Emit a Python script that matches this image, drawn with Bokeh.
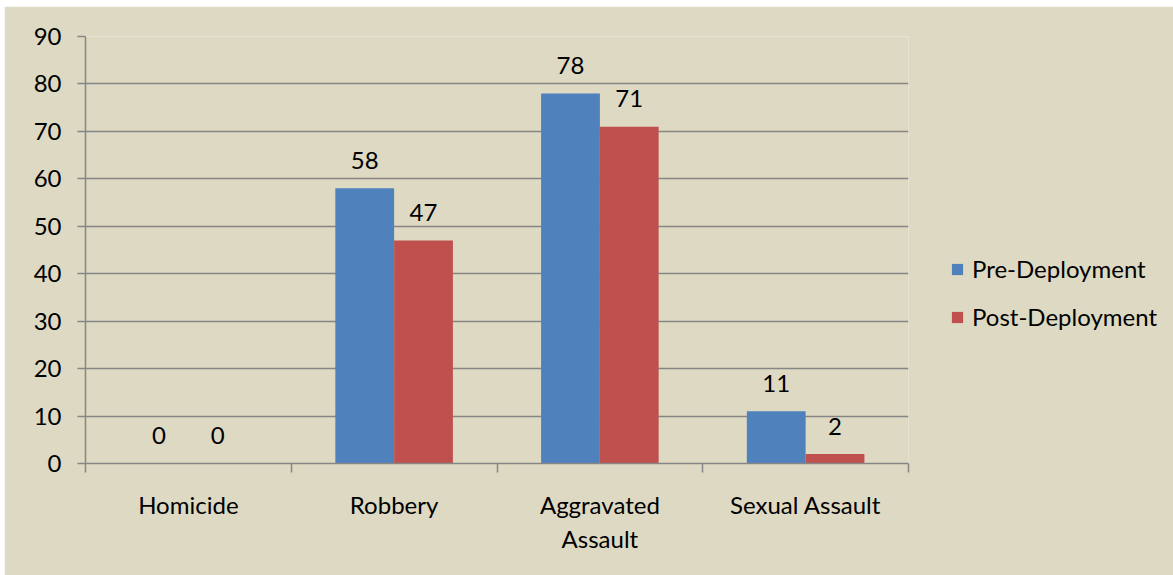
from bokeh.plotting import figure
from bokeh.models import (ColumnDataSource, Range1d, FixedTicker, Legend, LegendItem, Spacer)
from bokeh.layouts import column, row
from bokeh.embed import file_html
from bokeh.resources import INLINE
from bokeh.core.properties import value

categories = ["Homicide", "Robbery", "Aggravated\nAssault", "Sexual Assault"]
pre_deployment = [0, 58, 78, 11]
post_deployment = [0, 47, 71, 2]
series_names = ["Pre-Deployment", "Post-Deployment"]
y_ticks = [0, 10, 20, 30, 40, 50, 60, 70, 80, 90]

BG = "#DDD9C3"
GRID = "#868686"
BLUE = "#4F81BD"
RED = "#C0504D"
FONT = "Lato"
FS = "24px"

n = len(categories)
bw = 1 / 3.5
centers = [i + 0.5 for i in range(n)]

src_pre = ColumnDataSource(dict(x=[c - bw / 2 for c in centers], top=pre_deployment,
                                lbl=[str(v) for v in pre_deployment]))
src_post = ColumnDataSource(dict(x=[c + bw / 2 for c in centers], top=post_deployment,
                                 lbl=[str(v) for v in post_deployment]))

p = figure(frame_width=823, frame_height=427, output_backend="svg", toolbar_location=None,
           x_range=Range1d(0, n), y_range=Range1d(0, 90),
           min_border_left=81, min_border_right=265, min_border_top=30, min_border_bottom=112)
p.background_fill_color = BG
p.border_fill_color = BG
p.outline_line_color = None

r1 = p.vbar(x="x", top="top", width=bw, source=src_pre, color=BLUE, line_color=None)
r2 = p.vbar(x="x", top="top", width=bw, source=src_post, color=RED, line_color=None)

for s in (src_pre, src_post):
    p.text(x="x", y="top", text="lbl", source=s, text_align="center", text_baseline="alphabetic",
           y_offset=-28, text_font=value(FONT), text_font_size=FS, text_color="#000000")

# grid
p.xgrid.grid_line_color = None
p.ygrid.ticker = FixedTicker(ticks=y_ticks)
p.ygrid.grid_line_color = GRID
p.ygrid.grid_line_width = 1.5

# y axis
p.yaxis.ticker = FixedTicker(ticks=y_ticks)
p.yaxis.axis_line_color = GRID
p.yaxis.axis_line_width = 1.5
p.yaxis.major_tick_line_color = GRID
p.yaxis.major_tick_line_width = 1.5
p.yaxis.major_tick_out = 8
p.yaxis.major_tick_in = 0
p.yaxis.minor_tick_line_color = None
p.yaxis.major_label_standoff = 16
p.yaxis.major_label_text_font = FONT
p.yaxis.major_label_text_font_size = FS
p.yaxis.major_label_text_color = "#000000"

# x axis
p.xaxis.ticker = FixedTicker(ticks=centers, minor_ticks=list(range(n + 1)))
p.xaxis.major_label_overrides = {c: lab for c, lab in zip(centers, categories)}
p.xaxis.axis_line_color = GRID
p.xaxis.axis_line_width = 1.5
p.xaxis.major_tick_line_color = None
p.xaxis.minor_tick_line_color = GRID
p.xaxis.minor_tick_line_width = 1.5
p.xaxis.minor_tick_out = 9
p.xaxis.minor_tick_in = 0
p.xaxis.major_label_standoff = 17
p.xaxis.major_label_text_font = FONT
p.xaxis.major_label_text_font_size = FS
p.xaxis.major_label_text_color = "#000000"

legend = Legend(items=[LegendItem(label=series_names[0], renderers=[r1]),
                       LegendItem(label=series_names[1], renderers=[r2])],
                location=(42, 132), orientation="vertical")
legend.background_fill_alpha = 0
legend.border_line_color = None
legend.glyph_width = 14
legend.glyph_height = 14
legend.label_standoff = 8
legend.label_height = 20
legend.spacing = 19
legend.padding = 4
legend.margin = 0
legend.label_text_font = FONT
legend.label_text_font_size = FS
legend.label_text_color = "#000000"
p.add_layout(legend, "right")

layout = column(Spacer(height=6), row(Spacer(width=4), p))
layout.margin = 0
open("out.html", "w").write(file_html(layout, INLINE))
